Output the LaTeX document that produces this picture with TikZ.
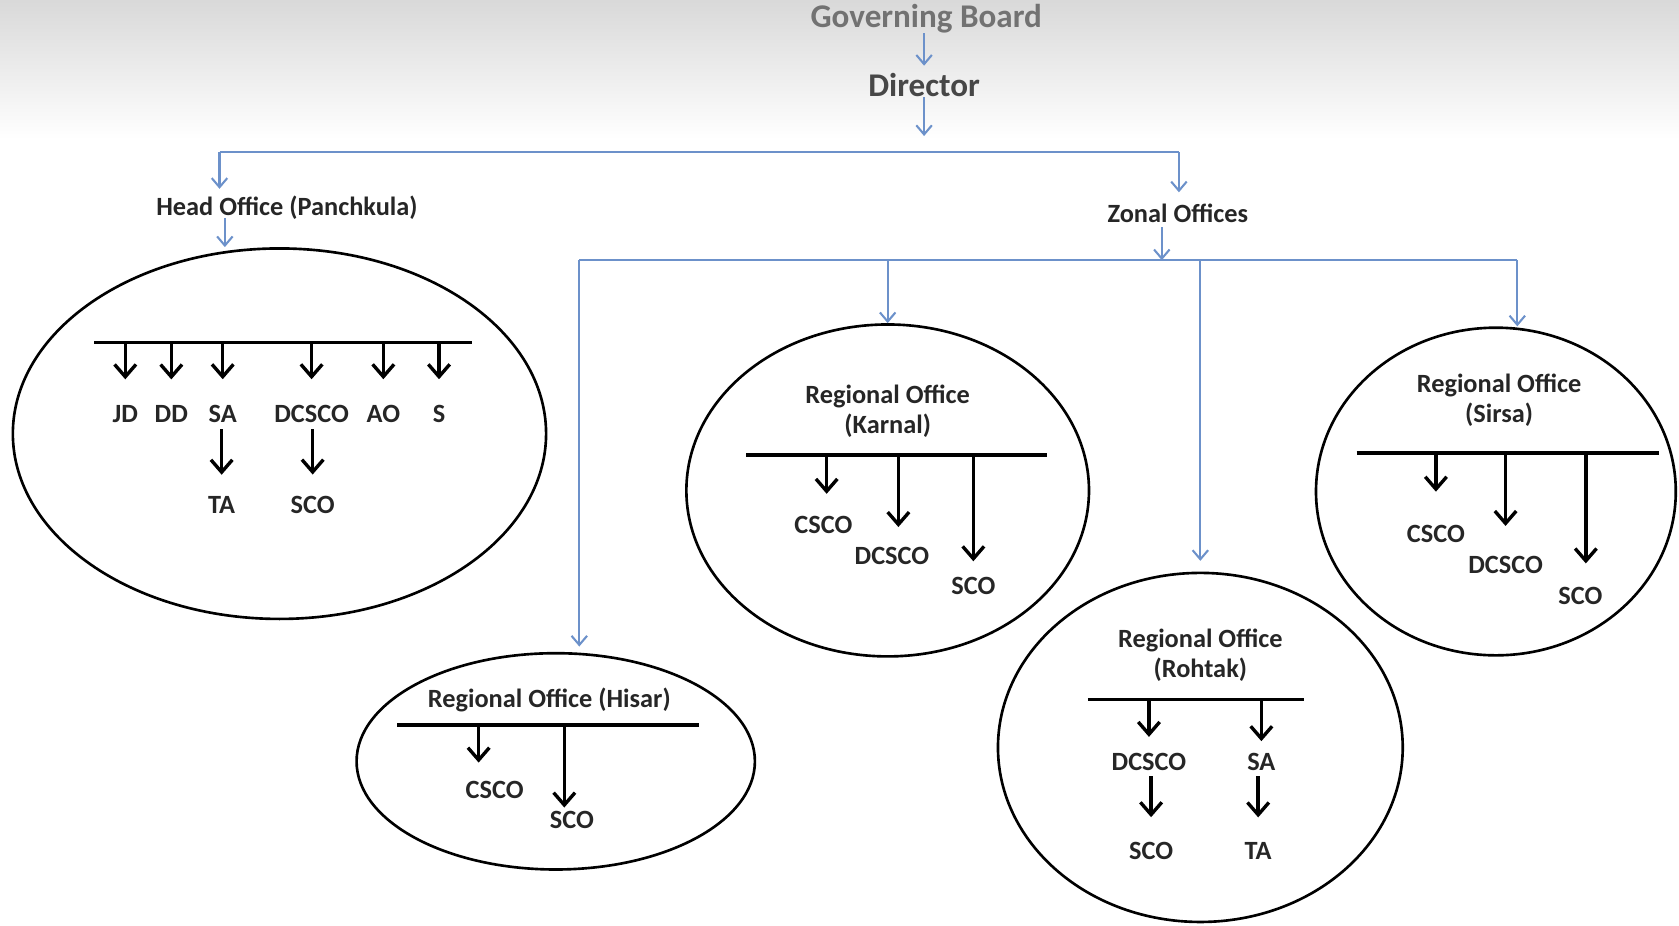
\documentclass[tikz,border=0pt]{standalone}
\usepackage{fontspec}
\setmainfont{Carlito}
\usetikzlibrary{arrows.meta,shapes.geometric,positioning,calc}
\definecolor{linkblue}{RGB}{108,145,202}
\definecolor{inkgray}{RGB}{38,38,38}

\begin{document}
\begin{tikzpicture}
  [x=0.1mm,y=-0.1mm,
 lbl/.style={
  font=\fontsize{7}{8}\selectfont\bfseries,
  text=inkgray,
  inner sep=0pt,
  align=center},
 toplbl/.style={
  font=\fontsize{8.8}{10}\selectfont\bfseries,
  text=inkgray!85,
  inner sep=0pt},
 office/.style={
  ellipse,
  draw=black,
  line width=0.7pt, % border
  inner sep=0pt},
 bar/.style={line width=0.9pt},
 blk/.style={-{Straight Barb[length=1.15mm,width=2mm]},line width=0.9pt},
 blu/.style={-{Straight Barb[length=0.85mm,width=1.45mm]},draw=linkblue,line width=0.55pt}]
\useasboundingbox (0,0) rectangle (1568,864);
% grey shade of the scan
\fill[top color=black!15,bottom color=white] (0,0) rectangle (1568,130);
% top of the chart
\node (board) [toplbl,text=inkgray!65] at (865,17) {Governing Board};
\node (director) [toplbl] at (863,79) {Director};
\draw[blu,shorten >=0.6mm] (director |- board.south) -- (director.north);
\coordinate (split) at (858,142);
\draw[blu,shorten >=1.5mm] (director.south) -- (director |- split);
\coordinate (leftend) at (205,142);
\coordinate (rightend) at (1101,142);
\draw[linkblue,line width=0.55pt] (leftend) -- (rightend);
\node (headname) [lbl] at (268,194) {Head Office (Panchkula)};
\node (zonal) [lbl] at (1100,199) {Zonal Offices};
\draw[blu,shorten >=0.6mm] (leftend) -- (leftend |- headname.north);
\draw[blu,shorten >=1mm] (rightend) -- (rightend |- zonal.north);
% offices
\node (head) [office,minimum width=49.8mm,minimum height=34.6mm] at (261,405) {};
\node (karnal) [office,minimum width=37.6mm,minimum height=31mm] at (829,458) {};
\node (sirsa) [office,minimum width=33.6mm,minimum height=30.6mm] at (1397,459) {};
\node (hisar) [office,minimum width=37.2mm,minimum height=20.2mm] at (519,711) {};
\node (rohtak) [office,minimum width=37.8mm,minimum height=32.6mm] at (1121,698) {};
\coordinate (headdrop) at (210,204);
\draw[blu] (headdrop) -- (headdrop |- head.north);
\coordinate (zonaldrop) at (1085,212);
\coordinate (zleft) at (541,243);
\coordinate (zright) at (1417,243);
\draw[blu] (zonaldrop) -- (zonaldrop |- zleft);
\draw[linkblue,line width=0.55pt] (zleft) -- (zright);
\draw[blu,shorten >=0.5mm] (zleft) -- (zleft |- hisar.north);
\draw[blu] (karnal.north |- zleft) -- (karnal.north);
\draw[blu,shorten >=1mm] (rohtak.north |- zleft) -- (rohtak.north);
\draw[blu] (zright) -- (zright |- sirsa.north);
% head office
\coordinate (hobarL) at (88,320);
\coordinate (hobarR) at (441,320);
\draw[bar] (hobarL) -- (hobarR);
\node (hoJD) [lbl] at (117,387) {JD};
\node (hoDD) [lbl] at (160,387) {DD};
\node (hoSA) [lbl] at (208,387) {SA};
\node (hoDCSCO) [lbl] at (291,387) {DCSCO};
\node (hoAO) [lbl] at (358,387) {AO};
\node (hoS) [lbl] at (410,387) {S};
\node (hoTA) [lbl] at (207,472) {TA};
\node (hoSCO) [lbl] at (292,472) {SCO};
\foreach \n in {hoJD,hoDD,hoSA,hoDCSCO,hoAO,hoS}
  \draw[blk,shorten >=2.4mm] (\n |- hobarL) -- (\n);
\draw[blk,shorten <=0.5mm,shorten >=2mm] (hoTA |- hoSA.south) -- (hoTA);
\draw[blk,shorten <=0.5mm,shorten >=2mm] (hoSCO |- hoDCSCO.south) -- (hoSCO);
% karnal
\node (kaname) [lbl] at (829,384) {Regional Office\\(Karnal)};
\coordinate (kabarL) at (697,425);
\coordinate (kabarR) at (978,425);
\draw[bar] (kabarL) -- (kabarR);
\node (kaCSCO) [lbl] at (769,490) {CSCO};
\node (kaDCSCO) [lbl] at (833,519) {DCSCO};
\node (kaSCO) [lbl] at (909,547) {SCO};
\draw[blk,shorten >=2mm] ($(kaCSCO |- kabarL)+(3,0)$) -- ($(kaCSCO.north)+(3,0)$);
\draw[blk,shorten >=1.8mm] ($(kaDCSCO |- kabarL)+(6,0)$) -- ($(kaDCSCO.north)+(6,0)$);
\draw[blk,shorten >=1.4mm] (kaSCO |- kabarL) -- (kaSCO);
% sirsa
\node (siname) [lbl] at (1400,374) {Regional Office\\(Sirsa)};
\coordinate (sibarL) at (1267,423);
\coordinate (sibarR) at (1549,423);
\draw[bar] (sibarL) -- (sibarR);
\node (siCSCO) [lbl] at (1341,499) {CSCO};
\node (siDCSCO) [lbl] at (1406,528) {DCSCO};
\node (siSCO) [lbl] at (1476,557) {SCO};
\draw[blk,shorten >=3.1mm] (siCSCO |- sibarL) -- (siCSCO);
\draw[blk,shorten >=2.8mm] (siDCSCO |- sibarL) -- (siDCSCO);
\draw[blk,shorten >=2.2mm] ($(siSCO |- sibarL)+(5,0)$) -- ($(siSCO.north)+(5,0)$);
% hisar
\node (hiname) [lbl] at (513,654) {Regional Office (Hisar)};
\coordinate (hibarL) at (371,677);
\coordinate (hibarR) at (653,677);
\draw[bar] (hibarL) -- (hibarR);
\node (hiCSCO) [lbl] at (462,738) {CSCO};
\node (hiSCO) [lbl] at (534,766) {SCO};
\draw[blk,shorten >=1.7mm] ($(hiCSCO |- hibarL)+(-15,0)$) -- ($(hiCSCO.north)+(-15,0)$);
\draw[blk,shorten >=0.3mm] ($(hiSCO |- hibarL)+(-7,0)$) -- ($(hiSCO.north)+(-7,0)$);
% rohtak
\node (roname) [lbl] at (1121,612) {Regional Office\\(Rohtak)};
\coordinate (robarL) at (1016,653);
\coordinate (robarR) at (1218,653);
\draw[bar] (robarL) -- (robarR);
\node (roDCSCO) [lbl] at (1073,712) {DCSCO};
\node (roSA) [lbl] at (1178,712) {SA};
\node (roSCO) [lbl] at (1075,795) {SCO};
\node (roTA) [lbl] at (1175,795) {TA};
\draw[blk,shorten >=1.5mm] (roDCSCO |- robarL) -- (roDCSCO);
\draw[blk,shorten >=1.1mm] (roSA |- robarL) -- (roSA);
\draw[blk,shorten <=0.4mm,shorten >=2.3mm] (roSCO |- roDCSCO.south) -- (roSCO);
\draw[blk,shorten <=0.4mm,shorten >=2.3mm] (roTA |- roSA.south) -- (roTA);
\end{tikzpicture}
\end{document}
